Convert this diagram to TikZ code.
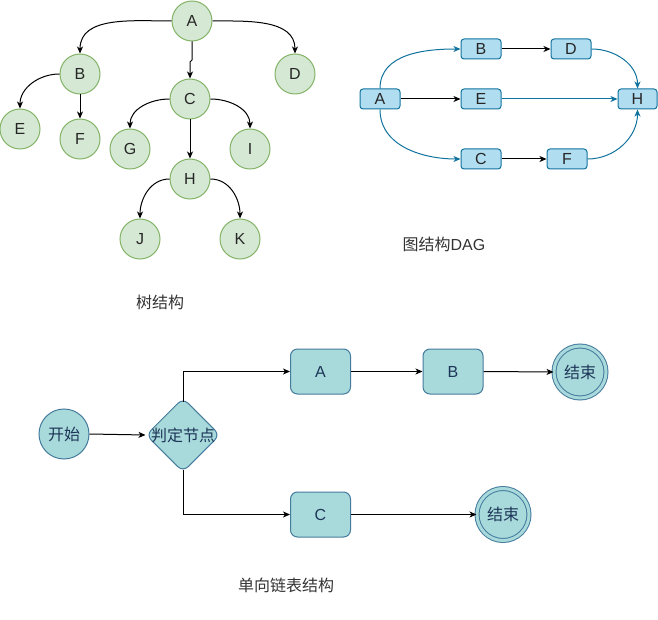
\documentclass[tikz,border=0pt]{standalone}
\usepackage{fontspec}
\setmainfont{Liberation Sans}
\newfontfamily\cjk{Noto Sans CJK SC}
\usetikzlibrary{shapes.geometric,arrows.meta}
\definecolor{trfill}{HTML}{D5E8D4}
\definecolor{trline}{HTML}{82B366}
\definecolor{dgfill}{HTML}{B1DDF0}
\definecolor{dgline}{HTML}{10739E}
\definecolor{flfill}{HTML}{A8DADC}
\definecolor{flline}{HTML}{457B9D}
\definecolor{fltext}{HTML}{1D3557}
\begin{document}
\begin{tikzpicture}[x=1pt,y=-1pt,
  tip/.style={-{Stealth[length=7pt,width=6pt,inset=2pt]}},
  edge/.style={tip,line width=1pt,black},
  bedge/.style={tip,line width=1pt,dgline},
  tnode/.style={circle,draw=trline,fill=trfill,line width=1pt,minimum size=40pt,inner sep=0pt,text=black!85,font=\fontsize{16}{16}\selectfont},
  dnode/.style={rectangle,rounded corners=3pt,draw=dgline,fill=dgfill,line width=1pt,minimum width=40pt,minimum height=20pt,inner sep=0pt,text=black!85,font=\fontsize{16}{16}\selectfont},
  fbox/.style={rectangle,rounded corners=7pt,draw=flline,fill=flfill,line width=1pt,minimum width=60pt,minimum height=45pt,inner sep=0pt,text=fltext,font=\fontsize{16}{16}\selectfont},
  fend/.style={circle,draw=flline,fill=flfill,line width=1pt,minimum size=52pt,inner sep=0pt,double=flfill,double distance=3pt,text=fltext,font=\cjk\fontsize{16}{16}\selectfont},
  caption/.style={font=\fontsize{16}{16}\selectfont,text=black!80}
]
\useasboundingbox (0,0) rectangle (658,620);
% ---------- tree ----------
\node[tnode] (tA) at (192,21) {A};
\node[tnode] (tB) at (80,74) {B};
\node[tnode] (tD) at (295,74) {D};
\node[tnode] (tC) at (190,99) {C};
\node[tnode] (tE) at (20,129) {E};
\node[tnode] (tF) at (80,139) {F};
\node[tnode] (tG) at (130,149) {G};
\node[tnode] (tI) at (250,149) {I};
\node[tnode] (tH) at (190,179) {H};
\node[tnode] (tJ) at (140,239) {J};
\node[tnode] (tK) at (240,239) {K};
\coordinate (j1) at (192,60);
\coordinate (j2) at (190,62);
\draw[edge] (tA.west) to[out=180,in=90] (tB.north);
\draw[edge] (tA.east) to[out=0,in=90] (tD.north);
\draw[edge] (tA.south) -- (j1) -- (j2) -- (tC.north);
\draw[edge] (tB.west) to[out=180,in=90] (tE.north);
\draw[edge] (tB.south) -- (tF.north);
\draw[edge] (tC.west) to[out=180,in=90] (tG.north);
\draw[edge] (tC.east) to[out=0,in=90] (tI.north);
\draw[edge] (tC.south) -- (tH.north);
\draw[edge] (tH.west) to[out=180,in=90] (tJ.north);
\draw[edge] (tH.east) to[out=0,in=90] (tK.north);
\node[caption] (cap1) at (160,302) {\cjk 树结构};
% ---------- DAG ----------
\node[dnode] (dA) at (380,99) {A};
\node[dnode] (dB) at (481,49) {B};
\node[dnode] (dD) at (571,49) {D};
\node[dnode] (dE) at (481,99) {E};
\node[dnode,minimum width=39pt] (dH) at (637.5,99) {H};
\node[dnode] (dC) at (481,159) {C};
\node[dnode] (dF) at (567,159) {F};
\draw[bedge] (dA.north) to[out=90,in=180] (dB.west);
\draw[edge] (dA.east) -- (dE.west);
\draw[bedge] (dA.south) to[out=-90,in=180] (dC.west);
\draw[edge] (dB.east) -- (dD.west);
\draw[bedge] (dE.east) -- (dH.west);
\draw[edge] (dC.east) -- (dF.west);
\draw[bedge] (dD.east) to[out=0,in=90] (dH.north);
\draw[bedge] (dF.east) to[out=0,in=-90] (dH.south);
\node[caption] (cap2) at (444,244) {{\cjk 图结构}DAG};
% ---------- flow ----------
\node[circle,draw=flline,fill=flfill,line width=1pt,minimum size=50pt,inner sep=0pt,text=fltext,font=\cjk\fontsize{16}{16}\selectfont] (fs) at (64,434) {开始};
\node[diamond,draw=flline,fill=flfill,line width=1pt,minimum width=74pt,minimum height=74pt,inner sep=0pt,rounded corners=7pt,
  label={[text=fltext,font=\cjk\fontsize{16}{16}\selectfont]center:判定节点}] (fd) at (183,435) {};
\node[fbox] (fa) at (320.5,371.5) {A};
\node[fbox] (fb) at (453,371.5) {B};
\node[fbox] (fc) at (320.5,514.5) {C};
\node[fend] (fe1) at (580,372) {结束};
\node[fend] (fe2) at (503,514.5) {结束};
\draw[edge] (fs.east) -- (fd.west);
\draw[edge] ([yshift=-4pt]fd.north) |- (fa.west);
\draw[edge] (fa.east) -- (fb.west);
\draw[edge] (fb.east) -- (fe1.west);
\draw[edge] ([yshift=3pt]fd.south) |- (fc.west);
\draw[edge] (fc.east) -- (fe2.west);
\node[caption] (cap3) at (286,585) {\cjk 单向链表结构};
\end{tikzpicture}
\end{document}
